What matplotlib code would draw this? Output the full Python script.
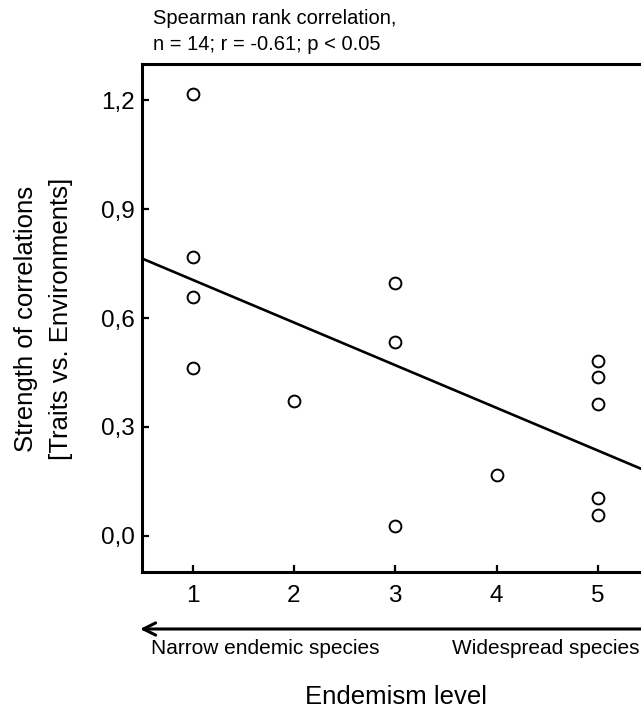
import numpy as np
import matplotlib.pyplot as plt

plt.rcParams['font.family'] = ['Liberation Sans', 'DejaVu Sans']

# endemism level of each species and its trait-environment correlation strength
endemism = [1, 1, 1, 1, 2, 3, 3, 3, 4, 5, 5, 5, 5, 5]
strength = [1.217, 0.769, 0.658, 0.463, 0.37, 0.696, 0.533, 0.028,
            0.166, 0.481, 0.437, 0.364, 0.104, 0.058]

xticks = [1, 2, 3, 4, 5]
yticks = [0.0, 0.3, 0.6, 0.9, 1.2]
ytick_labels = ["0,0", "0,3", "0,6", "0,9", "1,2"]

W, H = 641, 710
fig = plt.figure(figsize=(W / 100, H / 100), dpi=100)
# axes runs off the right edge, as in the original crop
ax = fig.add_axes([142 / W, 1 - 572 / H, (648.5 - 142) / W, (572 - 64) / H])

ax.plot(endemism, strength, 'o', ms=8.5, mfc='white', mec='black', mew=1.4,
        linestyle='none', zorder=3)

# least squares line over the whole x range
slope, icpt = np.polyfit(endemism, strength, 1)
xl = np.array([0.5, 5.5])
ax.plot(xl, icpt + slope * xl, color='black', lw=1.9)

ax.set_xlim(0.5, 5.5)
ax.set_ylim(-0.1, 1.3)
ax.set_xticks(xticks)
ax.set_yticks(yticks)
ax.set_yticklabels(ytick_labels)
for s in ax.spines.values():
    s.set_linewidth(2.2)
ax.tick_params(direction='in', length=5, width=1.6, labelsize=17.5)
ax.tick_params(axis='x', pad=9)
ax.tick_params(axis='y', pad=5)

fig.text(153 / W, 1 - 24 / H, "Spearman rank correlation,", fontsize=14.5,
         va='baseline')
fig.text(153 / W, 1 - 50 / H, "n = 14; r = -0.61; p < 0.05", fontsize=14.5,
         va='baseline')

fig.text(43.5 / W, 1 - 319 / H, "Strength of correlations\n[Traits vs. Environments]",
         rotation=90, ha='center', va='center', multialignment='center',
         fontsize=18.5, linespacing=1.6)

# arrow under the x axis
ax.annotate("", xy=(140 / W, 1 - 629 / H), xytext=(700 / W, 1 - 629 / H),
            xycoords='figure fraction', textcoords='figure fraction',
            arrowprops=dict(arrowstyle='->', lw=2.2, color='black',
                            mutation_scale=22, shrinkA=0, shrinkB=0))
fig.text(151 / W, 1 - 649 / H, "Narrow endemic species", fontsize=15, va='center')
fig.text(452 / W, 1 - 649 / H, "Widespread species", fontsize=15, va='center')

fig.text(396 / W, 1 - 697 / H, "Endemism level", fontsize=18.5, ha='center',
         va='center')

fig.savefig("out.png", dpi=100)
